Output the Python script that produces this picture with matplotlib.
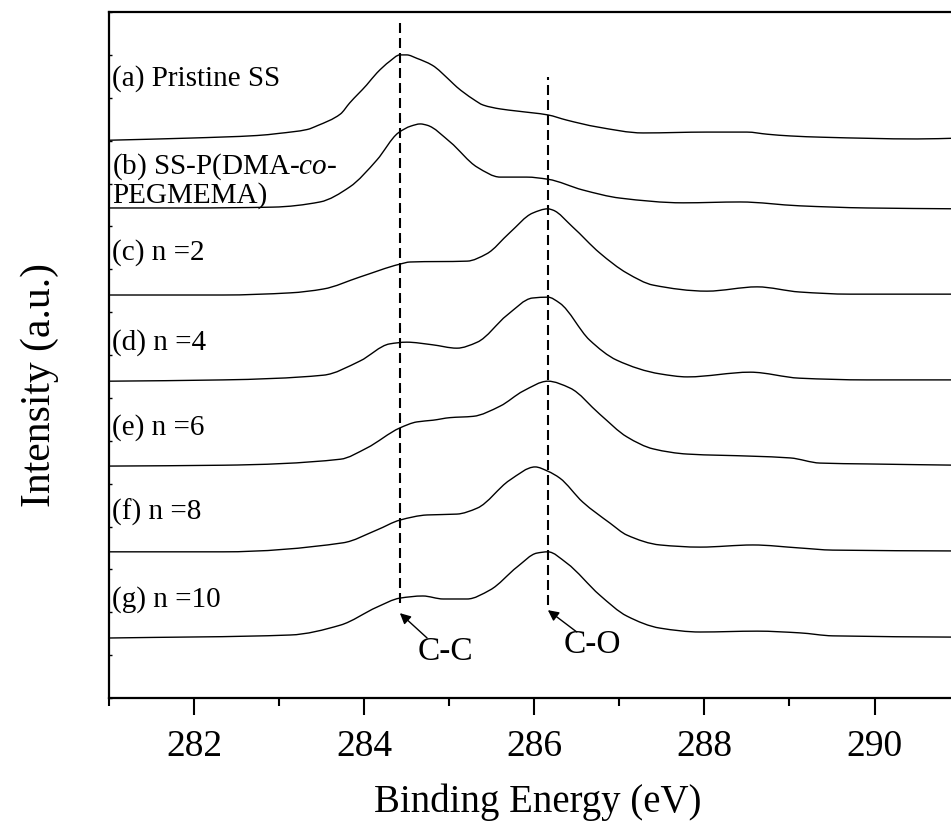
import matplotlib
matplotlib.use("Agg")
import matplotlib.pyplot as plt
import numpy as np
from matplotlib.path import Path
from matplotlib.patches import PathPatch
from matplotlib.ticker import MultipleLocator

plt.rcParams["font.family"] = ["Liberation Serif", "DejaVu Serif"]
plt.rcParams["mathtext.fontset"] = "custom"
plt.rcParams["mathtext.rm"] = "Liberation Serif"
plt.rcParams["mathtext.it"] = "Liberation Serif:italic"

# C 1s spectra (binding energy in eV, stacked intensity in a.u.)
be_a = [281.0, 281.95, 282.74, 283.00, 283.33, 283.45, 283.72, 283.83, 284.03, 284.15,
        284.30, 284.42, 284.50, 284.62, 284.80, 285.01, 285.09, 285.28, 285.40, 285.60,
        285.80, 286.16, 286.38, 286.74, 287.28, 288.03, 288.50, 288.74, 289.01, 289.39,
        290.50, 291.0]
int_a = [13.01, 13.06, 13.12, 13.17, 13.26, 13.35, 13.62, 13.88, 14.30, 14.58,
         14.85, 15.00, 15.00, 14.92, 14.76, 14.40, 14.25, 13.97, 13.83, 13.74,
         13.69, 13.60, 13.48, 13.32, 13.18, 13.20, 13.20, 13.15, 13.11, 13.08,
         13.04, 13.06]

be_b = [281.0, 281.95, 282.93, 283.48, 283.83, 284.15, 284.40, 284.55, 284.66, 284.74,
        285.01, 285.33, 285.60, 285.91, 286.16, 286.57, 287.01, 287.75, 288.42, 289.12,
        289.91, 291.0]
int_b = [11.43, 11.43, 11.45, 11.57, 11.92, 12.55, 13.18, 13.34, 13.39, 13.36,
         12.97, 12.38, 12.15, 12.15, 12.10, 11.85, 11.66, 11.55, 11.57, 11.48,
         11.43, 11.41]

be_c = [281.0, 282.34, 283.13, 283.52, 283.95, 284.42, 284.54, 285.21, 285.44, 285.71,
        285.98, 286.16, 286.22, 286.45, 286.77, 287.09, 287.40, 288.03, 288.62, 289.12,
        289.71, 291.0]
int_c = [9.40, 9.40, 9.45, 9.54, 9.82, 10.12, 10.17, 10.19, 10.36, 10.85,
         11.31, 11.41, 11.38, 10.99, 10.38, 9.91, 9.63, 9.49, 9.59, 9.47,
         9.42, 9.42]

be_d = [281.0, 282.34, 283.52, 283.95, 284.30, 284.50, 284.80, 285.09, 285.33, 285.68,
        285.98, 286.16, 286.30, 286.65, 286.97, 287.48, 287.80, 288.54, 289.12, 289.91,
        291.0]
int_d = [7.39, 7.42, 7.53, 7.86, 8.26, 8.30, 8.24, 8.16, 8.30, 8.93,
         9.33, 9.35, 9.21, 8.35, 7.88, 7.56, 7.49, 7.60, 7.46, 7.42,
         7.42]

be_e = [281.0, 282.34, 283.72, 284.03, 284.42, 284.62, 284.81, 285.01, 285.28, 285.60,
        285.87, 286.16, 286.42, 286.77, 287.09, 287.40, 287.80, 288.57, 289.01, 289.36,
        289.91, 291.0]
int_e = [5.41, 5.43, 5.57, 5.83, 6.30, 6.44, 6.48, 6.54, 6.57, 6.81,
         7.16, 7.39, 7.23, 6.62, 6.09, 5.81, 5.69, 5.64, 5.60, 5.48,
         5.46, 5.43]

be_f = [281.0, 282.34, 283.75, 284.15, 284.42, 284.74, 285.09, 285.33, 285.71, 286.01,
        286.16, 286.30, 286.57, 286.89, 287.09, 287.48, 287.95, 288.57, 289.12, 289.51,
        291.0]
int_f = [3.41, 3.41, 3.62, 3.92, 4.15, 4.27, 4.29, 4.43, 5.08, 5.39,
         5.29, 5.13, 4.57, 4.08, 3.80, 3.57, 3.52, 3.57, 3.50, 3.45,
         3.43]

be_g = [281.0, 283.13, 283.72, 284.15, 284.42, 284.69, 284.93, 285.21, 285.48, 285.80,
        286.03, 286.16, 286.38, 286.77, 287.09, 287.48, 287.95, 288.62, 289.12, 289.51,
        291.0]
int_g = [1.40, 1.47, 1.70, 2.12, 2.33, 2.38, 2.31, 2.31, 2.52, 3.06,
         3.38, 3.41, 3.15, 2.40, 1.91, 1.63, 1.54, 1.56, 1.52, 1.45,
         1.42]

curve_labels = ["(a) Pristine SS", "(b) SS-P(DMA-$co$-\nPEGMEMA)", "(c) n =2",
                "(d) n =4", "(e) n =6", "(f) n =8", "(g) n =10"]
label_y = [14.46, 12.08, 10.38, 8.28, 6.32, 4.34, 2.29]

cc_pos = 284.42
co_pos = 286.16


def smooth_path(x, y):
    # monotone cubic (pchip-style) bezier through the read points
    x = np.asarray(x, float)
    y = np.asarray(y, float)
    h = np.diff(x)
    d = np.diff(y) / h
    m = np.zeros_like(y)
    m[0], m[-1] = d[0], d[-1]
    for i in range(1, len(x) - 1):
        if d[i - 1] * d[i] > 0:
            w1 = 2 * h[i] + h[i - 1]
            w2 = h[i] + 2 * h[i - 1]
            m[i] = (w1 + w2) / (w1 / d[i - 1] + w2 / d[i])
    verts = [(x[0], y[0])]
    codes = [Path.MOVETO]
    for i in range(len(h)):
        verts += [(x[i] + h[i] / 3, y[i] + m[i] * h[i] / 3),
                  (x[i + 1] - h[i] / 3, y[i + 1] - m[i + 1] * h[i] / 3),
                  (x[i + 1], y[i + 1])]
        codes += [Path.CURVE4] * 3
    return Path(verts, codes)


fig = plt.figure(figsize=(9.51, 8.30), dpi=100)
ax = fig.add_axes([0.1146, 0.159, 0.8944, 0.8265])

spectra = [(be_a, int_a), (be_b, int_b), (be_c, int_c), (be_d, int_d),
           (be_e, int_e), (be_f, int_f), (be_g, int_g)]
for (x, y), lab, ly in zip(spectra, curve_labels, label_y):
    ax.add_patch(PathPatch(smooth_path(x, y), fill=False, edgecolor="black", lw=1.0))
    ax.text(281.04, ly, lab, fontsize=21, ha="left", va="center", linespacing=1.0)

# peak position guides
dash = (0, (4.8, 2.4))
ax.plot([cc_pos, cc_pos], [2.22, 15.74], color="black", lw=1.5, linestyle=dash)
ax.plot([co_pos, co_pos], [2.17, 14.48], color="black", lw=1.5, linestyle=dash)

arrow = dict(arrowstyle="-|>", color="black", lw=1.0, mutation_scale=16, shrinkA=0, shrinkB=0)
ax.annotate("", xy=(cc_pos, 1.98), xytext=(284.74, 1.40), arrowprops=arrow)
ax.annotate("", xy=(co_pos, 2.05), xytext=(286.50, 1.54), arrowprops=arrow)
ax.text(284.95, 1.07, "C-C", fontsize=24, ha="center", va="center")
ax.text(286.68, 1.24, "C-O", fontsize=24, ha="center", va="center")

ax.set_xlim(281, 291)
ax.set_ylim(0, 16)
ax.xaxis.set_major_locator(MultipleLocator(2))
ax.xaxis.set_minor_locator(MultipleLocator(1))
ax.yaxis.set_major_locator(MultipleLocator(1))
ax.tick_params(axis="x", which="major", direction="out", length=12, width=1.5,
               labelsize=27, pad=11)
ax.tick_params(axis="x", which="minor", direction="out", length=6, width=1.5)
ax.tick_params(axis="y", which="major", direction="in", length=2.5, width=1.0,
               labelleft=False)
for side in ["left", "bottom", "top"]:
    ax.spines[side].set_linewidth(1.6)
ax.spines["right"].set_visible(False)

ax.set_xlabel("Binding Energy (eV)", fontsize=28)
ax.xaxis.set_label_coords(0.504, -0.152)
ax.xaxis.label.set_verticalalignment("center")
ax.set_ylabel("Intensity (a.u.)", fontsize=30)
ax.yaxis.set_label_coords(-0.081, 0.456)
ax.yaxis.label.set_verticalalignment("center")

fig.savefig("out.png", dpi=100)
